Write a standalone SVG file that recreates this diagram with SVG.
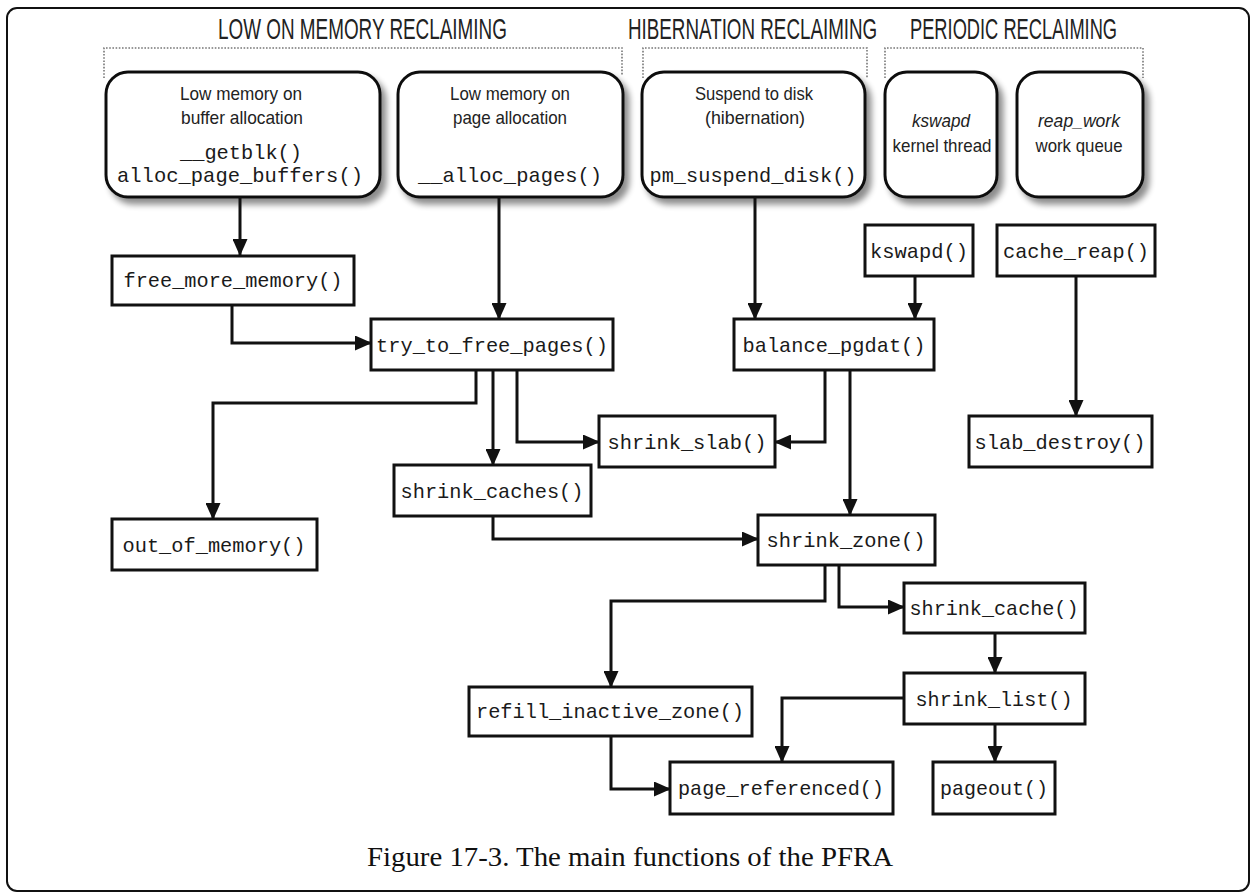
<svg xmlns="http://www.w3.org/2000/svg" width="1250" height="893" viewBox="0 0 1250 893">
<style>
.frame{fill:#fff;stroke:#111;stroke-width:2}
.title{font-family:"Liberation Sans",Arial,sans-serif;font-size:29px;fill:#222}
.bracket{fill:none;stroke:#777;stroke-width:1.6;stroke-dasharray:1.6 1.6}
.rbox{fill:#fff;stroke:#111;stroke-width:3;filter:url(#shadow)}
.box{fill:#fff;stroke:#111;stroke-width:3}
.lbl{font-family:"Liberation Sans",Arial,sans-serif;font-size:19px;fill:#222;text-anchor:middle}
.it{font-style:italic}
.mono{font-family:"Liberation Mono","DejaVu Sans Mono",monospace;font-size:21px;fill:#1a1a1a;text-anchor:middle}
.conn path{fill:none;stroke:#111;stroke-width:3;marker-end:url(#arr)}
.cap{font-family:"Liberation Serif","Times New Roman",serif;font-size:28px;fill:#111}
</style>
<defs>
<filter id="shadow" x="-20%" y="-20%" width="150%" height="150%">
<feGaussianBlur in="SourceAlpha" stdDeviation="3"/>
<feOffset dx="5" dy="6" result="b"/>
<feComponentTransfer><feFuncA type="linear" slope="0.45"/></feComponentTransfer>
<feMerge><feMergeNode/><feMergeNode in="SourceGraphic"/></feMerge>
</filter>
<marker id="arr" markerUnits="userSpaceOnUse" markerWidth="17" markerHeight="15" refX="16" refY="7.5" orient="auto">
<path d="M0,0 L17,7.5 L0,15 z" fill="#111"/>
</marker>
</defs>
<rect class="frame" x="7" y="8" width="1242" height="883" rx="10"/>

<g id="titles">
<text class="title" transform="translate(218,39) scale(0.62,1)" x="0" y="0" textLength="466" lengthAdjust="spacingAndGlyphs">LOW ON MEMORY RECLAIMING</text>
<text class="title" transform="translate(628,39) scale(0.62,1)" x="0" y="0" textLength="402" lengthAdjust="spacingAndGlyphs">HIBERNATION RECLAIMING</text>
<text class="title" transform="translate(910,39) scale(0.62,1)" x="0" y="0" textLength="334" lengthAdjust="spacingAndGlyphs">PERIODIC RECLAIMING</text>
<path class="bracket" d="M104 78 V48 H622 V76"/>
<path class="bracket" d="M643 78 V48 H867 V78"/>
<path class="bracket" d="M885 78 V48 H1143 V78"/>
</g>

<g id="n-buffer">
<rect class="rbox" x="106" y="72" width="274" height="125" rx="22"/>
<text class="lbl" x="241" y="100" textLength="122" lengthAdjust="spacingAndGlyphs">Low memory on</text>
<text class="lbl" x="242" y="124" textLength="122" lengthAdjust="spacingAndGlyphs">buffer allocation</text>
<text class="mono" x="241" y="159" textLength="122" lengthAdjust="spacingAndGlyphs">__getblk()</text>
<text class="mono" x="240" y="182" textLength="246" lengthAdjust="spacingAndGlyphs">alloc_page_buffers()</text>
</g>
<g id="n-page">
<rect class="rbox" x="398" y="72" width="225" height="125" rx="22"/>
<text class="lbl" x="510" y="100" textLength="120" lengthAdjust="spacingAndGlyphs">Low memory on</text>
<text class="lbl" x="510" y="124" textLength="114" lengthAdjust="spacingAndGlyphs">page allocation</text>
<text class="mono" x="510" y="182" textLength="184" lengthAdjust="spacingAndGlyphs">__alloc_pages()</text>
</g>
<g id="n-suspend">
<rect class="rbox" x="642" y="72" width="223" height="125" rx="22"/>
<text class="lbl" x="754" y="100" textLength="118" lengthAdjust="spacingAndGlyphs">Suspend to disk</text>
<text class="lbl" x="755" y="124" textLength="100" lengthAdjust="spacingAndGlyphs">(hibernation)</text>
<text class="mono" x="753" y="182" textLength="207" lengthAdjust="spacingAndGlyphs">pm_suspend_disk()</text>
</g>
<g id="n-kswapd-thread">
<rect class="rbox" x="885" y="72" width="112" height="125" rx="22"/>
<text class="lbl it" x="941" y="127" textLength="58" lengthAdjust="spacingAndGlyphs">kswapd</text>
<text class="lbl" x="942" y="152" textLength="99" lengthAdjust="spacingAndGlyphs">kernel thread</text>
</g>
<g id="n-reapwork">
<rect class="rbox" x="1017" y="72" width="126" height="125" rx="22"/>
<text class="lbl it" x="1079" y="127" textLength="82" lengthAdjust="spacingAndGlyphs">reap_work</text>
<text class="lbl" x="1079" y="152" textLength="87" lengthAdjust="spacingAndGlyphs">work queue</text>
</g>

<g id="n-free_more_memory"><rect class="box" x="112" y="256" width="242" height="49"/><text class="mono" x="233" y="287" textLength="219" lengthAdjust="spacingAndGlyphs">free_more_memory()</text></g>
<g id="n-try_to_free_pages"><rect class="box" x="371" y="319" width="242" height="51"/><text class="mono" x="492" y="352" textLength="232" lengthAdjust="spacingAndGlyphs">try_to_free_pages()</text></g>
<g id="n-balance_pgdat"><rect class="box" x="734" y="319" width="200" height="51"/><text class="mono" x="834" y="352" textLength="183" lengthAdjust="spacingAndGlyphs">balance_pgdat()</text></g>
<g id="n-kswapd"><rect class="box" x="865" y="225" width="108" height="51"/><text class="mono" x="919" y="258" textLength="98" lengthAdjust="spacingAndGlyphs">kswapd()</text></g>
<g id="n-cache_reap"><rect class="box" x="997" y="225" width="158" height="51"/><text class="mono" x="1076" y="258" textLength="146" lengthAdjust="spacingAndGlyphs">cache_reap()</text></g>
<g id="n-shrink_slab"><rect class="box" x="599" y="416" width="176" height="51"/><text class="mono" x="687" y="449" textLength="159" lengthAdjust="spacingAndGlyphs">shrink_slab()</text></g>
<g id="n-slab_destroy"><rect class="box" x="969" y="416" width="183" height="51"/><text class="mono" x="1060" y="449" textLength="171" lengthAdjust="spacingAndGlyphs">slab_destroy()</text></g>
<g id="n-shrink_caches"><rect class="box" x="394" y="465" width="197" height="51"/><text class="mono" x="492" y="498" textLength="183" lengthAdjust="spacingAndGlyphs">shrink_caches()</text></g>
<g id="n-out_of_memory"><rect class="box" x="112" y="519" width="205" height="51"/><text class="mono" x="214" y="552" textLength="183" lengthAdjust="spacingAndGlyphs">out_of_memory()</text></g>
<g id="n-shrink_zone"><rect class="box" x="758" y="515" width="177" height="50"/><text class="mono" x="846" y="547" textLength="159" lengthAdjust="spacingAndGlyphs">shrink_zone()</text></g>
<g id="n-shrink_cache"><rect class="box" x="904" y="583" width="181" height="50"/><text class="mono" x="994" y="615" textLength="169" lengthAdjust="spacingAndGlyphs">shrink_cache()</text></g>
<g id="n-shrink_list"><rect class="box" x="904" y="673" width="181" height="51"/><text class="mono" x="994" y="706" textLength="157" lengthAdjust="spacingAndGlyphs">shrink_list()</text></g>
<g id="n-refill_inactive_zone"><rect class="box" x="469" y="687" width="283" height="49"/><text class="mono" x="610" y="718" textLength="268" lengthAdjust="spacingAndGlyphs">refill_inactive_zone()</text></g>
<g id="n-page_referenced"><rect class="box" x="670" y="762" width="223" height="52"/><text class="mono" x="781" y="795" textLength="206" lengthAdjust="spacingAndGlyphs">page_referenced()</text></g>
<g id="n-pageout"><rect class="box" x="933" y="762" width="122" height="52"/><text class="mono" x="994" y="795" textLength="108" lengthAdjust="spacingAndGlyphs">pageout()</text></g>

<g id="connectors" class="conn">
<path d="M240 197 V255"/>
<path d="M499 197 V319"/>
<path d="M232 305 V343 H371"/>
<path d="M755 197 V319"/>
<path d="M915 276 V319"/>
<path d="M1076 276 V416"/>
<path d="M476 370 V403 H213 V519"/>
<path d="M493 370 V465"/>
<path d="M517 370 V442 H599"/>
<path d="M825 370 V442 H775"/>
<path d="M850 370 V515"/>
<path d="M493 516 V539 H758"/>
<path d="M825 565 V601 H611 V687"/>
<path d="M839 565 V607 H904"/>
<path d="M995 633 V673"/>
<path d="M904 698 H782 V762"/>
<path d="M995 724 V762"/>
<path d="M611 736 V789 H670"/>
</g>

<text class="cap" x="367" y="866" textLength="526" lengthAdjust="spacingAndGlyphs">Figure 17-3. The main functions of the PFRA</text>
</svg>
